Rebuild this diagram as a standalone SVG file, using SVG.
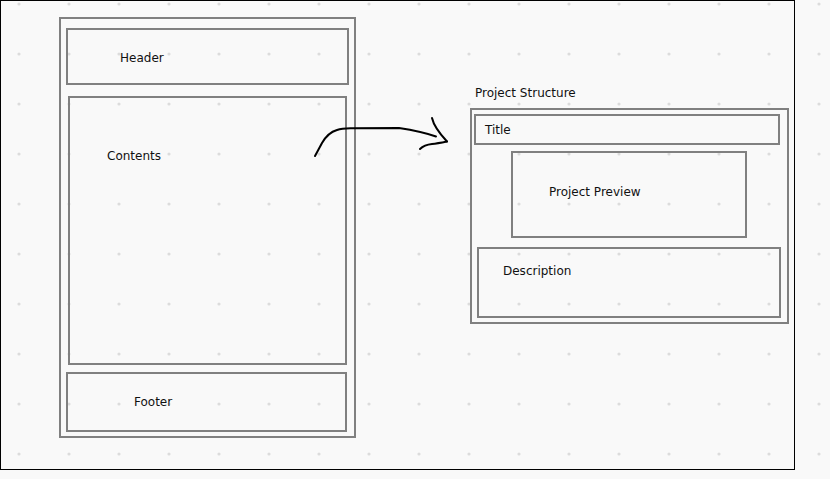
<svg xmlns="http://www.w3.org/2000/svg" width="830" height="479" viewBox="0 0 830 479">
<defs>
<pattern id="dots" x="0" y="0" width="50" height="50" patternUnits="userSpaceOnUse">
<circle cx="19" cy="4" r="1.6" fill="#dcdcdc"/>
</pattern>
</defs>
<style>
.box{fill:none;stroke:#808080;stroke-width:2}
.lbl{font-family:"DejaVu Sans",sans-serif;font-size:12px;fill:#111}
.ink{fill:none;stroke:#000;stroke-width:2;stroke-linecap:round;stroke-linejoin:round}
</style>
<rect width="830" height="479" fill="#f9f9f9"/>
<rect width="830" height="479" fill="url(#dots)"/>
<rect x="0.5" y="0.5" width="794" height="469" fill="none" stroke="#000" stroke-width="1"/>
<g id="page">
<rect class="box" x="60" y="18" width="295" height="419"/>
</g>
<g id="header">
<rect class="box" x="67" y="29" width="281" height="55"/>
<text class="lbl" x="120" y="62">Header</text>
</g>
<g id="contents">
<rect class="box" x="69" y="97" width="277" height="267"/>
<text class="lbl" x="107" y="160">Contents</text>
</g>
<g id="footer">
<rect class="box" x="67" y="373" width="279" height="58"/>
<text class="lbl" x="134" y="406">Footer</text>
</g>
<g id="project-structure">
<text class="lbl" x="475" y="97">Project Structure</text>
<rect class="box" x="471" y="109" width="317" height="214"/>
</g>
<g id="title">
<rect class="box" x="475" y="115" width="304" height="29"/>
<text class="lbl" x="485" y="134">Title</text>
</g>
<g id="project-preview">
<rect class="box" x="512" y="152" width="234" height="85"/>
<text class="lbl" x="549" y="196">Project Preview</text>
</g>
<g id="description">
<rect class="box" x="478" y="248" width="302" height="69"/>
<text class="lbl" x="503" y="275">Description</text>
</g>
<g id="connectors">
<path class="ink" d="M315,156 L322,143 C326,136 330,132 337,130 C342,128.5 346,128.5 352,128.3 L399,128 C412,130 426,133 436,136.5"/>
<path class="ink" d="M432,118 C434,127 440,134 447,141.5"/>
<path class="ink" d="M420,149 C423,146 427,144.5 432,144 C437,143.5 442,142.5 447,141.5"/>
</g>
</svg>
